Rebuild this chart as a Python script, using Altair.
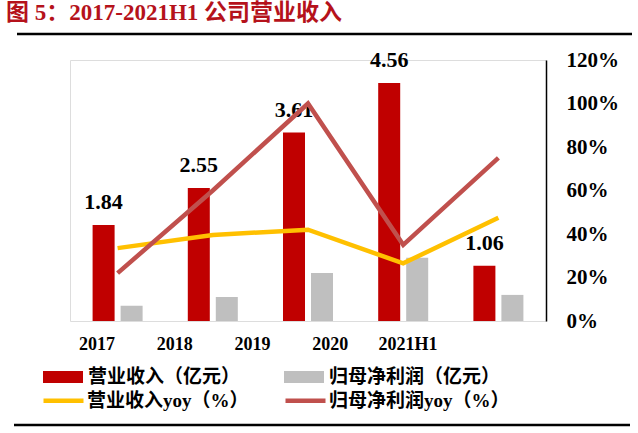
import altair as alt
import pandas as pd

years = ["2017", "2018", "2019", "2020", "2021H1"]
revenue = [1.84, 2.55, 3.61, 4.56, 1.06]
net_profit = [0.29, 0.46, 0.92, 1.21, 0.50]
revenue_yoy = [33.5, 39.5, 42.0, 26.5, 47.5]
profit_yoy = [22.0, 60.0, 100.0, 35.0, 75.0]

bar_names = ["营业收入（亿元）", "归母净利润（亿元）"]
line_names = ["营业收入yoy（%）", "归母净利润yoy（%）"]
bar_colors = ["#C00000", "#BFBFBF"]
line_colors = ["#FFC000", "#C0504D"]
title_text = "图 5：2017-2021H1 公司营业收入"

bars_df = pd.DataFrame({
    "year": years * 2,
    "series": [bar_names[0]] * 5 + [bar_names[1]] * 5,
    "value": revenue + net_profit,
})
rev_df = pd.DataFrame({"year": years, "series": [bar_names[0]] * 5, "value": revenue})
lines_df = pd.DataFrame({
    "year": years * 2,
    "series": [line_names[0]] * 5 + [line_names[1]] * 5,
    "pct": revenue_yoy + profit_yoy,
})
labels_df = pd.DataFrame({"year": years})
deco_df = pd.DataFrame({"k": [0]})

SERIF = "Liberation Serif, Times New Roman, Noto Sans CJK SC"

xscale = alt.Scale(domain=years, paddingInner=0, paddingOuter=0)
xoff_scale = alt.Scale(domain=bar_names, paddingInner=0.214, paddingOuter=0.807)
yleft = alt.Scale(domain=[0, 5], nice=False)
yright = alt.Scale(domain=[0, 120], nice=False)

rect_path = "M-1,-0.3H1V0.3H-1Z"

bars = alt.Chart(bars_df).mark_bar().encode(
    x=alt.X("year:N", scale=xscale, sort=years,
            axis=alt.Axis(title=None, labels=False, ticks=False, domain=True,
                          domainColor="#000000", domainWidth=1.5)),
    xOffset=alt.XOffset("series:N", scale=xoff_scale, sort=bar_names),
    y=alt.Y("value:Q", scale=yleft,
            axis=alt.Axis(title=None, values=[0, 1, 2, 3, 4, 5], ticks=False, grid=False,
                          domainColor="#000000", domainWidth=1.5,
                          labelFont=SERIF, labelFontSize=20, labelFontWeight="bold",
                          labelColor="#000000", labelPadding=24)),
    fill=alt.Fill("series:N", scale=alt.Scale(domain=bar_names, range=bar_colors),
                  legend=alt.Legend(title=None, orient="none", legendX=-27, legendY=297,
                                    direction="horizontal", symbolType=rect_path,
                                    symbolSize=1600, symbolStrokeWidth=0,
                                    labelFont=SERIF, labelFontSize=19, labelFontWeight="bold",
                                    labelColor="#000000", labelOffset=5, columnPadding=43,
                                    labelLimit=400)),
)

value_text = alt.Chart(rev_df).mark_text(
    dy=-16, baseline="alphabetic", font=SERIF, fontSize=22, fontWeight="bold", color="#000000"
).encode(
    x=alt.X("year:N", scale=xscale, sort=years, axis=None),
    xOffset=alt.XOffset("series:N", scale=xoff_scale, sort=bar_names),
    y=alt.Y("value:Q", scale=yleft, axis=None),
    text=alt.Text("value:Q", format=".2f"),
)

left = alt.layer(bars, value_text)

lines = alt.Chart(lines_df).mark_line(strokeWidth=4.5, strokeCap="butt", strokeJoin="miter").encode(
    x=alt.X("year:N", scale=xscale, sort=years, axis=None),
    y=alt.Y("pct:Q", scale=yright,
            axis=alt.Axis(title=None, orient="right", values=[0, 20, 40, 60, 80, 100, 120],
                          ticks=False, grid=False, domainColor="#000000", domainWidth=1.5,
                          labelExpr="datum.value + '%'",
                          labelFont=SERIF, labelFontSize=21, labelFontWeight="bold",
                          labelColor="#000000", labelPadding=20)),
    stroke=alt.Stroke("series:N", scale=alt.Scale(domain=line_names, range=line_colors),
                      legend=alt.Legend(title=None, orient="none", legendX=-29, legendY=318,
                                        direction="horizontal", symbolType="stroke",
                                        symbolSize=1600, symbolStrokeWidth=4.5,
                                        labelFont=SERIF, labelFontSize=19, labelFontWeight="bold",
                                        labelColor="#000000", labelOffset=1, columnPadding=27,
                                        labelLimit=400)),
    detail="series:N",
)

xlabels = alt.Chart(labels_df).mark_text(
    font=SERIF, fontSize=18, fontWeight="bold", color="#000000", baseline="middle"
).encode(
    x=alt.X("year:N", sort=years, scale=alt.Scale(type="point", range=[27, 338], padding=0), axis=None),
    y=alt.value(285),
    text="year:N",
)

top_rule = alt.Chart(deco_df).mark_rule(color="#000000", strokeWidth=2.5).encode(
    x=alt.value(-53), x2=alt.value(562), y=alt.value(-26)
)
bottom_rule = alt.Chart(deco_df).mark_rule(color="#000000", strokeWidth=2.5).encode(
    x=alt.value(-56), x2=alt.value(560), y=alt.value(365)
)

chart = alt.layer(left, lines, xlabels, top_rule, bottom_rule).resolve_scale(
    y="independent", x="independent", fill="independent", stroke="independent"
).properties(
    width=476, height=261,
    padding={"left": 70, "top": 60, "right": 92, "bottom": 112},
    autosize=alt.AutoSizeParams(type="none"),
    title=alt.TitleParams(title_text, anchor="start", frame="group", dx=-64, offset=8,
                          font="Liberation Serif, Noto Sans CJK SC", fontSize=23,
                          fontWeight="bold", color="#B5121B"),
).configure_view(stroke=None).configure(background="#FFFFFF")

chart.save("out.html", embed_options={"renderer": "svg", "actions": False})
